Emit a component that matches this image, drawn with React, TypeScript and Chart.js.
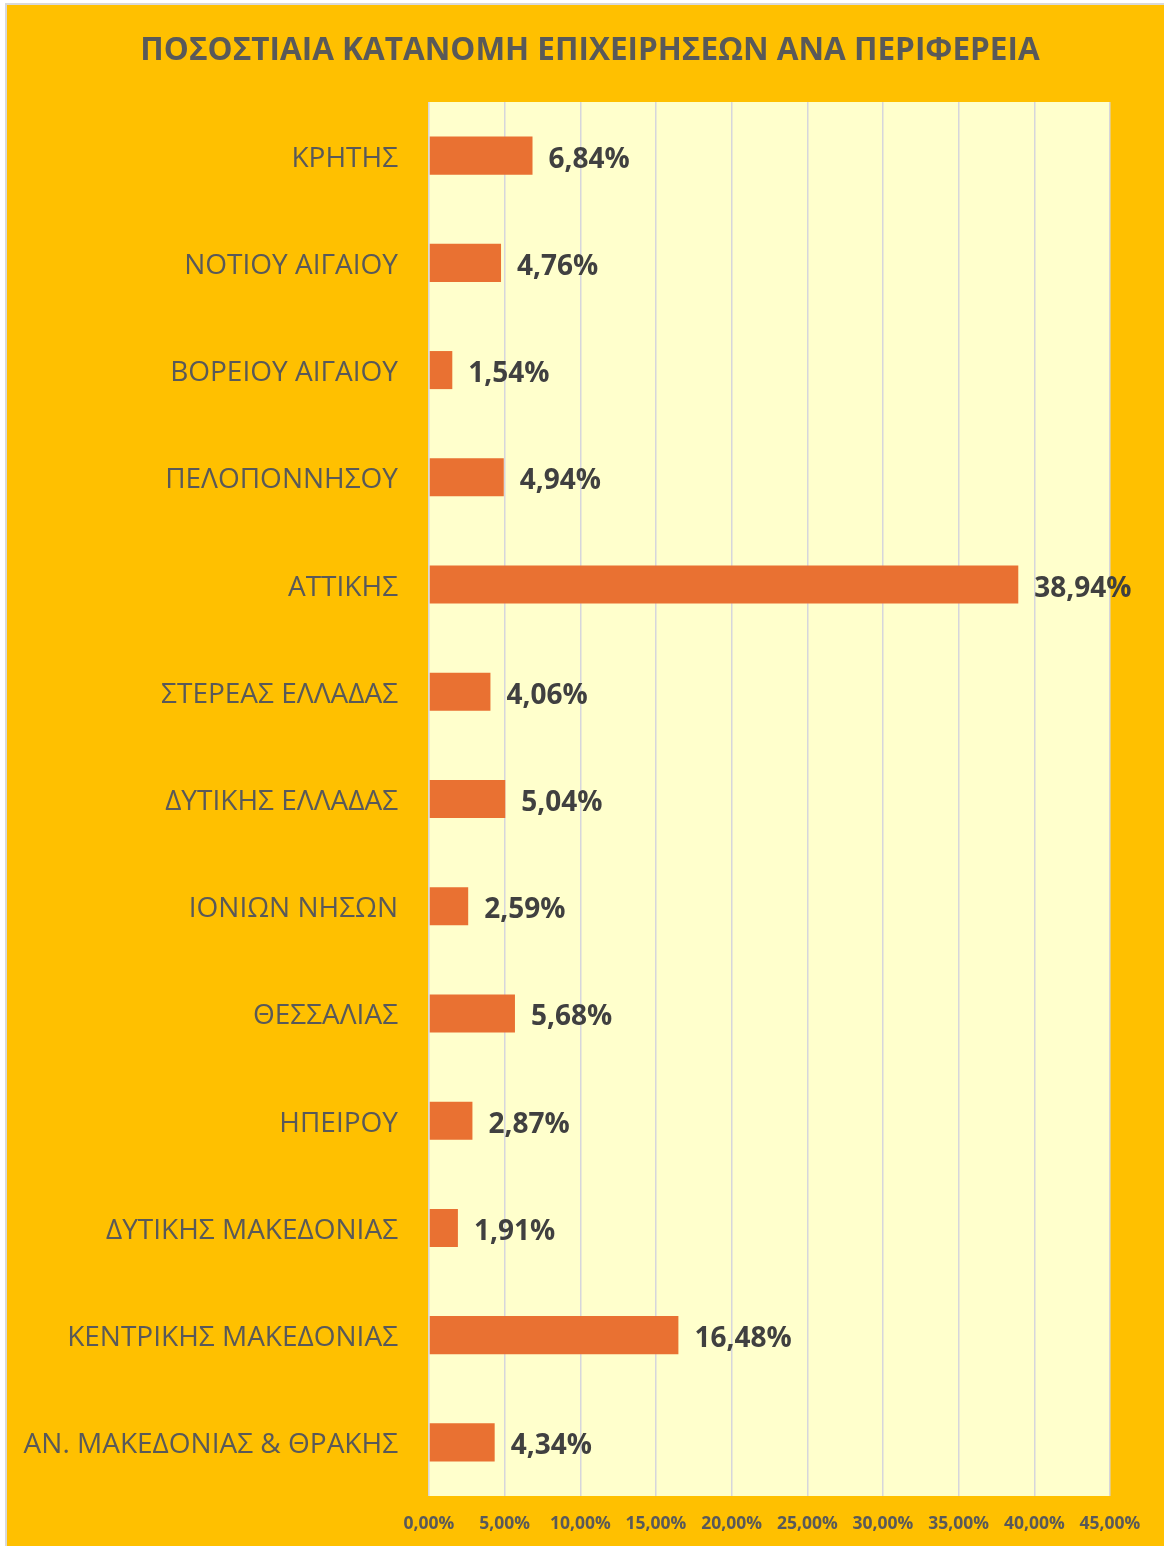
import React, { useEffect, useRef } from "react";
import { Chart, registerables } from "chart.js";

Chart.register(...registerables);

const TITLE = "ΠΟΣΟΣΤΙΑΙΑ ΚΑΤΑΝΟΜΗ ΕΠΙΧΕΙΡΗΣΕΩΝ ΑΝΑ ΠΕΡΙΦΕΡΕΙΑ";

const regions = [
  "ΚΡΗΤΗΣ",
  "ΝΟΤΙΟΥ ΑΙΓΑΙΟΥ",
  "ΒΟΡΕΙΟΥ ΑΙΓΑΙΟΥ",
  "ΠΕΛΟΠΟΝΝΗΣΟΥ",
  "ΑΤΤΙΚΗΣ",
  "ΣΤΕΡΕΑΣ ΕΛΛΑΔΑΣ",
  "ΔΥΤΙΚΗΣ ΕΛΛΑΔΑΣ",
  "ΙΟΝΙΩΝ ΝΗΣΩΝ",
  "ΘΕΣΣΑΛΙΑΣ",
  "ΗΠΕΙΡΟΥ",
  "ΔΥΤΙΚΗΣ ΜΑΚΕΔΟΝΙΑΣ",
  "ΚΕΝΤΡΙΚΗΣ ΜΑΚΕΔΟΝΙΑΣ",
  "ΑΝ. ΜΑΚΕΔΟΝΙΑΣ & ΘΡΑΚΗΣ",
];

const shares = [6.84, 4.76, 1.54, 4.94, 38.94, 4.06, 5.04, 2.59, 5.68, 2.87, 1.91, 16.48, 4.34];

const xMin = 0;
const xMax = 45;
const xStep = 5;

const fmt = (v: number) => v.toFixed(2).replace(".", ",") + "%";

const W = 1156;
const H = 1540;

export default function App() {
  const ref = useRef<HTMLCanvasElement | null>(null);

  useEffect(() => {
    if (!ref.current) return;
    const plotBg = {
      id: "plotBg",
      beforeDraw(chart: any) {
        const { ctx, chartArea: a } = chart;
        ctx.save();
        ctx.fillStyle = "#FFFFCC";
        ctx.fillRect(a.left, a.top, a.right - a.left, a.bottom - a.top);
        ctx.restore();
      },
    };
    const extras = {
      id: "extras",
      afterDraw(chart: any) {
        const { ctx } = chart;
        ctx.save();
        ctx.fillStyle = "#595959";
        ctx.font = "bold 31.5px 'Open Sans'";
        ctx.textAlign = "center";
        ctx.textBaseline = "middle";
        ctx.fillText(TITLE, 582, 45);
        const meta = chart.getDatasetMeta(0);
        ctx.fillStyle = "#404040";
        ctx.font = "bold 28px 'Open Sans'";
        ctx.textAlign = "left";
        meta.data.forEach((el: any, i: number) => {
          ctx.fillText(fmt(shares[i]), el.x + 16, el.y + 4);
        });
        ctx.restore();
      },
    };
    const chart = new Chart(ref.current, {
      type: "bar",
      data: {
        labels: regions,
        datasets: [
          {
            data: shares,
            backgroundColor: "#E97132",
            borderWidth: 0,
            barPercentage: 0.355,
            categoryPercentage: 1,
          },
        ],
      },
      options: {
        indexAxis: "y",
        animation: false,
        responsive: false,
        maintainAspectRatio: false,
        layout: { padding: { top: 96, right: 54, bottom: 0, left: 0 } },
        plugins: {
          legend: { display: false },
          tooltip: { enabled: false },
          title: { display: false },
        },
        scales: {
          x: {
            min: xMin,
            max: xMax,
            border: { display: false },
            grid: { color: "#D6D6DC", lineWidth: 1.5, drawTicks: false },
            ticks: {
              stepSize: xStep,
              padding: 18,
              color: "#595959",
              font: { family: "'Open Sans'", size: 17.5, weight: "bold" },
              callback: (v: any) => fmt(Number(v)),
            },
            afterFit: (s: any) => {
              s.height = 50;
            },
          },
          y: {
            border: { display: false },
            grid: { display: false, drawTicks: false },
            ticks: {
              padding: 31,
              labelOffset: 3,
              color: "#595959",
              font: { family: "'Open Sans'", size: 28 },
            },
            afterFit: (s: any) => {
              s.width = 421;
            },
          },
        },
      },
      plugins: [plotBg, extras],
    });
    return () => chart.destroy();
  }, []);

  return (
    <div style={{ position: "absolute", left: 0, top: 0, width: 1164, height: 1546, background: "#fff" }}>
      <div
        style={{
          position: "absolute",
          left: 5,
          top: 3,
          right: 0,
          bottom: 0,
          borderLeft: "2px solid #D9D9D9",
          borderTop: "2px solid #D9D9D9",
          background: "#FFC000",
        }}
      >
        <canvas ref={ref} width={W} height={H} style={{ position: "absolute", left: 1, top: 1, width: W, height: H }} />
      </div>
    </div>
  );
}
